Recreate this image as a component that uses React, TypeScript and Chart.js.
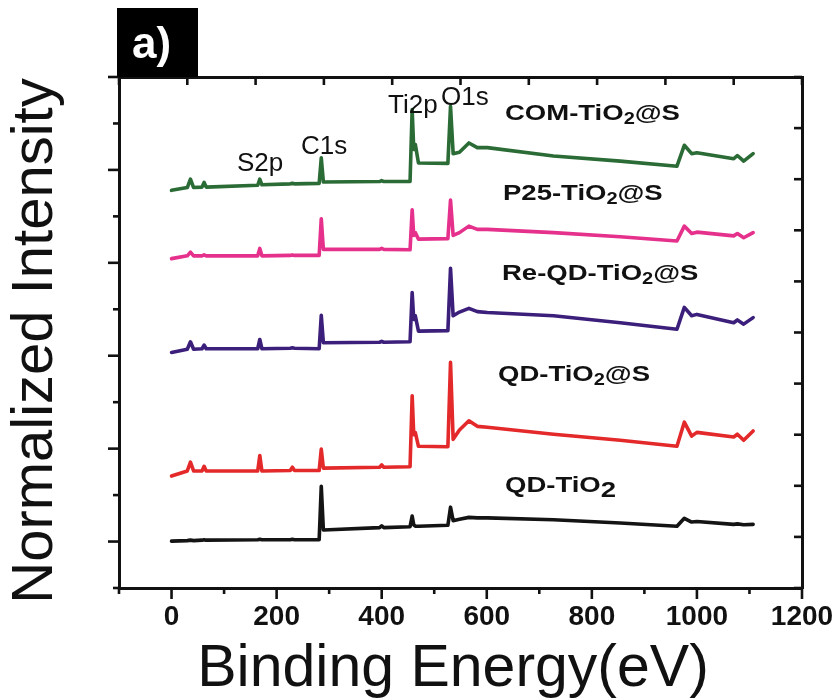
import React, { useEffect, useRef } from 'react';
import { Chart, registerables } from 'chart.js';

Chart.register(...registerables);

// ---------- data ----------
const ENERGY = [0, 30, 36, 42, 58, 62, 66, 164, 168, 172, 226, 230, 234, 281, 285, 289, 396, 400, 404, 454, 458, 461, 464, 470, 526, 531, 536, 548, 566, 582, 601, 727, 854, 962, 976, 990, 1000, 1070, 1077, 1089, 1107];

const QD_TIO2 = [1.01, 1.02, 1.03, 1.02, 1.03, 1.04, 1.03, 1.04, 1.05, 1.04, 1.04, 1.05, 1.04, 1.04, 2.19, 1.25, 1.3, 1.34, 1.3, 1.32, 1.55, 1.36, 1.33, 1.33, 1.35, 1.74, 1.45, 1.48, 1.52, 1.51, 1.51, 1.47, 1.4, 1.33, 1.5, 1.42, 1.43, 1.37, 1.38, 1.36, 1.37];

const QD_TIO2_S = [2.41, 2.52, 2.71, 2.52, 2.52, 2.62, 2.52, 2.52, 2.85, 2.52, 2.53, 2.6, 2.53, 2.53, 2.99, 2.58, 2.6, 2.65, 2.6, 2.61, 4.14, 3.3, 3.35, 3.05, 3.04, 4.86, 3.2, 3.4, 3.6, 3.48, 3.46, 3.31, 3.18, 3.05, 3.57, 3.27, 3.35, 3.25, 3.31, 3.18, 3.38];

const RE_QD_TIO2_S = [5.07, 5.14, 5.3, 5.14, 5.15, 5.23, 5.15, 5.15, 5.35, 5.15, 5.16, 5.17, 5.16, 5.15, 5.87, 5.28, 5.29, 5.31, 5.29, 5.3, 6.36, 5.78, 5.86, 5.53, 5.54, 6.88, 5.86, 5.94, 6.02, 5.95, 5.93, 5.86, 5.71, 5.57, 6.04, 5.86, 5.89, 5.71, 5.77, 5.68, 5.82];

const P25_TIO2_S = [7.09, 7.15, 7.23, 7.15, 7.15, 7.17, 7.15, 7.15, 7.31, 7.15, 7.16, 7.17, 7.16, 7.16, 7.95, 7.29, 7.29, 7.31, 7.29, 7.28, 8.14, 7.59, 7.65, 7.51, 7.52, 8.35, 7.59, 7.65, 7.79, 7.72, 7.72, 7.65, 7.56, 7.47, 7.79, 7.63, 7.66, 7.58, 7.63, 7.54, 7.65];

const COM_TIO2_S = [8.56, 8.62, 8.8, 8.62, 8.63, 8.73, 8.63, 8.67, 8.8, 8.68, 8.7, 8.71, 8.7, 8.71, 9.26, 8.74, 8.75, 8.77, 8.75, 8.75, 10.3, 9.44, 9.55, 9.15, 9.14, 10.37, 9.35, 9.38, 9.58, 9.48, 9.48, 9.3, 9.19, 9.08, 9.53, 9.35, 9.37, 9.24, 9.31, 9.19, 9.35];

const SERIES = [QD_TIO2, QD_TIO2_S, RE_QD_TIO2_S, P25_TIO2_S, COM_TIO2_S];
const SERIES_NAMES = ['QD-TiO₂', 'QD-TiO₂@S', 'Re-QD-TiO₂@S', 'P25-TiO₂@S', 'COM-TiO₂@S'];
// label text split as [before, subscript, after]
const SERIES_LABEL_PARTS = [
  ['QD-TiO', '2', ''],
  ['QD-TiO', '2', '@S'],
  ['Re-QD-TiO', '2', '@S'],
  ['P25-TiO', '2', '@S'],
  ['COM-TiO', '2', '@S'],
];
const PEAK_LABELS = ['S2p', 'C1s', 'Ti2p', 'O1s'];
const X_TITLE = 'Binding Energy(eV)';
const Y_TITLE = 'Normalized Intensity';
const PANEL_LABEL = 'a)';

// ---------- styles / layout ----------
const COLORS = ['#141414', '#E3292A', '#3B1F7B', '#E5308C', '#2B6B35'];
const FONT = '"Liberation Sans", Arial, Helvetica, sans-serif';
const TEXT_COLOR = '#111111';

const LAYOUT = {
  seriesLabels: [
    { x: 505, y: 492, sub: 22, subDy: 5 },
    { x: 498, y: 381, sub: 16, subDy: 4 },
    { x: 502, y: 280, sub: 16, subDy: 4 },
    { x: 503, y: 200, sub: 16, subDy: 4 },
    { x: 505, y: 120, sub: 16, subDy: 4 },
  ],
  peakLabels: [
    { x: 237, y: 171 },
    { x: 301, y: 154 },
    { x: 388, y: 113 },
    { x: 441, y: 105 },
  ],
};

function drawScaledText(ctx: CanvasRenderingContext2D, text: string, x: number, y: number, font: string, color: string, sx = 1) {
  ctx.save();
  ctx.translate(x, y);
  ctx.scale(sx, 1);
  ctx.font = font;
  ctx.fillStyle = color;
  ctx.textAlign = 'left';
  ctx.textBaseline = 'alphabetic';
  ctx.fillText(text, 0, 0);
  ctx.restore();
}

const decorPlugin = {
  id: 'decor',
  afterDraw(chart: any) {
    const ctx: CanvasRenderingContext2D = chart.ctx;
    const { x, y, x2, y2 } = chart.scales;
    const area = chart.chartArea;
    ctx.save();
    ctx.strokeStyle = TEXT_COLOR;
    ctx.lineWidth = 2.6;
    ctx.lineCap = 'butt';
    const seg = (a: number, b: number, c: number, d: number) => {
      ctx.beginPath();
      ctx.moveTo(a, b);
      ctx.lineTo(c, d);
      ctx.stroke();
    };
    x.ticks.forEach((t: any) => {
      const px = x.getPixelForValue(t.value);
      const len = t.value % 200 === 0 ? 11 : 6;
      seg(px, area.bottom, px, area.bottom + len);
    });
    y.ticks.forEach((t: any) => {
      const py = y.getPixelForValue(t.value);
      const len = t.value % 2 === 1 ? 11 : 6;
      seg(area.left - len, py, area.left, py);
    });
    x2.ticks.forEach((t: any) => {
      const px = x2.getPixelForValue(t.value);
      seg(px, area.top, px, area.top + 8);
    });
    y2.ticks.forEach((t: any) => {
      const py = y2.getPixelForValue(t.value);
      seg(area.right - 8, py, area.right, py);
    });

    // axis titles
    ctx.save();
    ctx.translate(52, 341);
    ctx.rotate(-Math.PI / 2);
    ctx.font = `58px ${FONT}`;
    ctx.fillStyle = TEXT_COLOR;
    ctx.textAlign = 'center';
    ctx.textBaseline = 'alphabetic';
    ctx.fillText(Y_TITLE, 0, 0);
    ctx.restore();

    ctx.save();
    ctx.font = `59px ${FONT}`;
    ctx.fillStyle = TEXT_COLOR;
    ctx.textAlign = 'center';
    ctx.textBaseline = 'alphabetic';
    ctx.fillText(X_TITLE, 453, 686);
    ctx.restore();

    // series labels with subscripts
    const sx = 1.25;
    const mainFont = `bold 22px ${FONT}`;
    SERIES_LABEL_PARTS.forEach((parts, i) => {
      const pos = LAYOUT.seriesLabels[i];
      const subFont = `bold ${pos.sub}px ${FONT}`;
      let cx = pos.x;
      parts.forEach((p, j) => {
        if (!p) return;
        const isSub = j === 1;
        const f = isSub ? subFont : mainFont;
        ctx.font = f;
        const w = ctx.measureText(p).width * sx;
        drawScaledText(ctx, p, cx, isSub ? pos.y + pos.subDy : pos.y, f, TEXT_COLOR, sx);
        cx += w;
      });
    });

    // peak labels
    PEAK_LABELS.forEach((t, i) => {
      const pos = LAYOUT.peakLabels[i];
      drawScaledText(ctx, t, pos.x, pos.y, `26px ${FONT}`, TEXT_COLOR, 1);
    });

    // panel label
    ctx.fillStyle = '#000';
    ctx.fillRect(117, 8, 81, 69);
    drawScaledText(ctx, PANEL_LABEL, 132, 58, `bold 44px ${FONT}`, '#ffffff', 1);

    ctx.restore();
  },
};

export default function App() {
  const canvasRef = useRef<HTMLCanvasElement | null>(null);

  useEffect(() => {
    const canvas = canvasRef.current;
    if (!canvas) return;
    const datasets = SERIES.map((vals, i) => ({
      label: SERIES_NAMES[i],
      data: ENERGY.map((e, k) => ({ x: e, y: vals[k] })),
      borderColor: COLORS[i],
      backgroundColor: COLORS[i],
      borderWidth: 3.6,
      pointRadius: 0,
      tension: 0,
      fill: false,
      borderJoinStyle: 'round' as const,
      borderCapStyle: 'round' as const,
    }));

    const chart = new Chart(canvas, {
      type: 'line',
      data: { datasets },
      options: {
        animation: false,
        responsive: false,
        devicePixelRatio: 1,
        layout: { padding: 0 },
        plugins: {
          legend: { display: false },
          tooltip: { enabled: false },
        },
        scales: {
          x: {
            type: 'linear',
            position: 'bottom',
            min: -100,
            max: 1200,
            grid: { display: false, drawTicks: true, tickLength: 11 },
            border: { display: true, color: TEXT_COLOR, width: 3 },
            ticks: {
              stepSize: 100,
              autoSkip: false,
              maxRotation: 0,
              padding: 1,
              color: TEXT_COLOR,
              font: { family: FONT, size: 28, weight: 'bold' },
              callback: (v: any) => (Number(v) % 200 === 0 ? String(v) : ''),
            },
            afterFit: (s: any) => { s.height = 111; },
          },
          x2: {
            type: 'linear',
            position: 'top',
            min: 0,
            max: 10,
            grid: { display: false, drawTicks: false },
            border: { display: true, color: TEXT_COLOR, width: 3 },
            ticks: { display: false, stepSize: 1 },
            afterFit: (s: any) => { s.height = 77; },
          },
          y: {
            type: 'linear',
            position: 'left',
            min: 0,
            max: 11,
            grid: { display: false, drawTicks: false },
            border: { display: true, color: TEXT_COLOR, width: 3 },
            ticks: { display: false, stepSize: 1 },
            afterFit: (s: any) => { s.width = 119; },
          },
          y2: {
            type: 'linear',
            position: 'right',
            min: 0,
            max: 10,
            grid: { display: false, drawTicks: false },
            border: { display: true, color: TEXT_COLOR, width: 3 },
            ticks: { display: false, stepSize: 1 },
            afterFit: (s: any) => { s.width = 38; },
          },
        },
      } as any,
      plugins: [decorPlugin],
    });
    return () => chart.destroy();
  }, []);

  return (
    <div style={{ position: 'fixed', left: 0, top: 0, width: 840, height: 699, background: '#ffffff' }}>
      <canvas ref={canvasRef} width={840} height={699} style={{ display: 'block', width: 840, height: 699 }} />
    </div>
  );
}
